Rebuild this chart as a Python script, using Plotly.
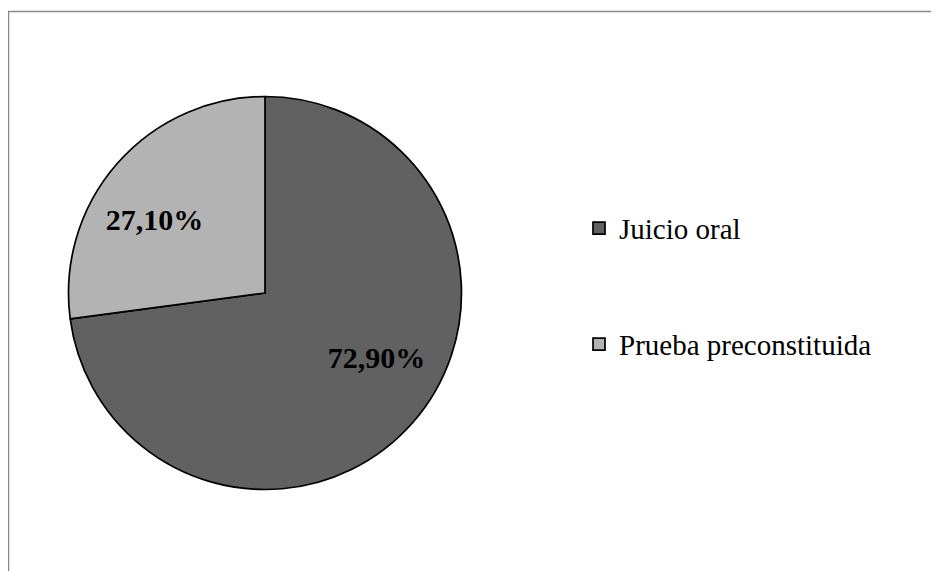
import plotly.graph_objects as go

categories = ["Juicio oral", "Prueba preconstituida"]
values = [72.9, 27.1]
value_labels = ["72,90%", "27,10%"]
colors = ["#616161", "#b3b3b3"]

W, H = 931, 563  # page body has an 8px margin

NB = "\u00a0"
legend_labels = ["<br>" + c + "<br> " for c in categories]
# pad labels so they sit where the original placed them inside the slices
pie_text = [NB * 10 + value_labels[0], value_labels[1] + NB * 7]

fig = go.Figure(go.Pie(
    labels=legend_labels,
    values=values,
    text=pie_text,
    textinfo="text",
    textposition="inside",
    insidetextorientation="horizontal",
    sort=False,
    direction="clockwise",
    rotation=0,
    marker=dict(colors=colors, line=dict(color="#000000", width=1.7)),
    textfont=dict(family="Liberation Serif", size=30, color="#000000", weight="bold"),
    domain=dict(x=[60/W, 454/W], y=[1-481.5/H, 1-88.5/H]),
    hoverinfo="skip",
))

fig.update_layout(
    width=W, height=H,
    margin=dict(l=0, r=0, t=0, b=0),
    paper_bgcolor="#ffffff",
    plot_bgcolor="#ffffff",
    showlegend=True,
    legend=dict(
        x=571/W, xanchor="left",
        y=1-157/H, yanchor="top",
        font=dict(family="Liberation Serif", size=29, color="#000000"),
        bgcolor="rgba(0,0,0,0)",
        borderwidth=0,
    ),
    shapes=[dict(type="rect", xref="paper", yref="paper",
                 x0=0.5/W, x1=1.05, y0=-0.05, y1=1-3.5/H,
                 line=dict(color="#888888", width=1.5), fillcolor="rgba(0,0,0,0)")],
)

fig.write_html("out.html")
